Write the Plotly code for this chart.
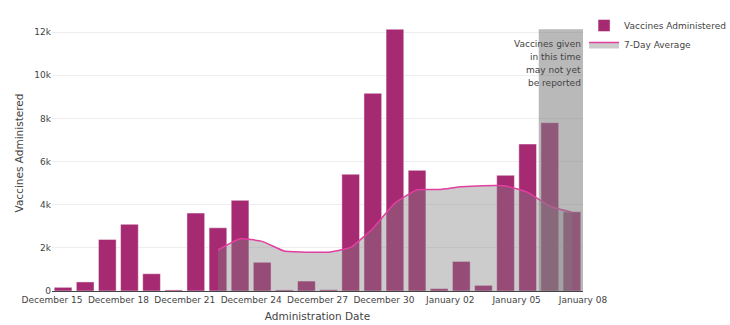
import plotly.graph_objects as go

dates = ["2020-12-15", "2020-12-16", "2020-12-17", "2020-12-18", "2020-12-19", "2020-12-20",
         "2020-12-21", "2020-12-22", "2020-12-23", "2020-12-24", "2020-12-25", "2020-12-26",
         "2020-12-27", "2020-12-28", "2020-12-29", "2020-12-30", "2020-12-31", "2021-01-01",
         "2021-01-02", "2021-01-03", "2021-01-04", "2021-01-05", "2021-01-06", "2021-01-07"]
vaccines = [170, 420, 2390, 3090, 800, 50, 3610, 2930, 4200, 1330, 50, 460,
            60, 5410, 9160, 12130, 5590, 110, 1370, 260, 5360, 6810, 7800, 3670]

avg_dates = dates[7:]
avg_values = [1900, 2420, 2300, 1850, 1800, 1800, 2020, 2900, 4070, 4690,
              4700, 4830, 4880, 4870, 4570, 3930, 3650]

note_lines = ["Vaccines given", "in this time", "may not yet", "be reported"]
shade_start = "2021-01-06"
range_end = "2021-01-08"

FONT = "DejaVu Sans, Verdana, sans-serif"
DAY = 86400000

fig = go.Figure()
fig.add_trace(go.Bar(
    x=dates, y=vaccines, name="Vaccines Administered",
    xperiod=DAY, xperiodalignment="middle",
    marker=dict(color="#a52a72", line=dict(color="rgba(255,255,255,0.45)", width=1)),
))
fig.add_trace(go.Scatter(
    x=avg_dates, y=avg_values, name="7-Day Average", mode="lines",
    xperiod=DAY, xperiodalignment="middle",
    line=dict(color="#e0409f", width=1.5, shape="spline", smoothing=0.4),
    fill="tozeroy", fillcolor="rgba(128,128,128,0.4)",
))

fig.add_shape(type="rect", xref="x", yref="y", x0=shade_start, x1=range_end,
              y0=0, y1=max(vaccines), fillcolor="rgba(128,128,128,0.55)",
              line=dict(width=0), layer="above")

plot_top, plot_bottom = 15, 291
for i, line in enumerate(note_lines):
    ypx = 43.5 + 13 * i
    fig.add_annotation(x=range_end, xref="x", y=(plot_bottom - ypx) / (plot_bottom - plot_top),
                       yref="paper", text=line, showarrow=False, xanchor="right",
                       yanchor="middle", xshift=0,
                       font=dict(family=FONT, size=9, color="#444"))

fig.update_layout(
    width=730, height=325,
    margin=dict(l=52, r=147, t=15, b=34, autoexpand=False),
    paper_bgcolor="white", plot_bgcolor="white",
    font=dict(family=FONT, size=9, color="#444"),
    bargap=0.2,
    showlegend=True,
    legend=dict(x=1.002, y=1.0145, xanchor="left", yanchor="top", font=dict(size=9),
                itemwidth=30, bgcolor="rgba(0,0,0,0)"),
    xaxis=dict(
        range=["2020-12-15", range_end], type="date",
        tick0="2020-12-15", dtick=3 * DAY, tickformat="%B %d",
        showgrid=False, showline=True, linecolor="#444", linewidth=1,
        ticks="", tickfont=dict(size=9), automargin=False,
        title=dict(text="Administration Date", font=dict(size=10.5), standoff=8),
    ),
    yaxis=dict(
        range=[0, 12790], tickvals=[0, 2000, 4000, 6000, 8000, 10000, 12000],
        ticktext=["0", "2k", "4k", "6k", "8k", "10k", "12k"],
        showgrid=True, gridcolor="#eeeeee", zeroline=False, showline=False,
        ticks="", tickfont=dict(size=9), automargin=False,
        title=dict(text="Vaccines Administered", font=dict(size=10.5), standoff=8),
    ),
)

fig.write_html("out.html")
